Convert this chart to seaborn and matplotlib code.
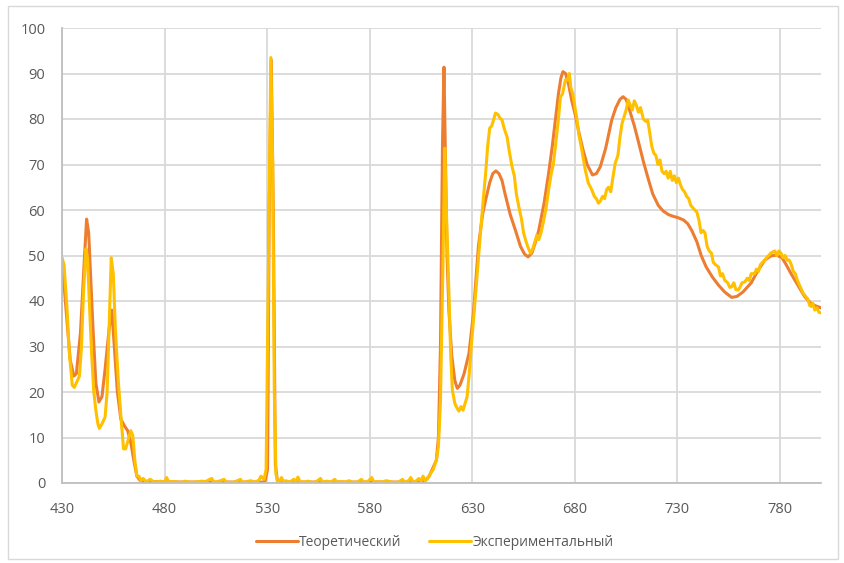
import numpy as np
import pandas as pd
import matplotlib
matplotlib.use("Agg")
import matplotlib.pyplot as plt
import seaborn as sns
from matplotlib.patches import Rectangle

# wavelength / intensity
theory_x = [430, 432, 434, 435.8, 437, 439, 441, 442, 443, 445, 446.5, 448, 449.5, 451, 453,
            454.3, 455.5, 457, 458.7, 460.5, 462, 463.5, 465, 466.5, 468, 470, 490, 510, 528,
            529, 530.2, 531, 532, 533, 534, 535, 536.5, 560, 585, 605,
            607, 609, 611, 612.5, 613.5, 614.5, 615.5, 616.2, 617, 617.7, 618.6, 620, 621.5,
            622.7, 624, 626, 628.4, 630.5, 633, 635, 636.5, 638.5, 640, 641.5, 643, 644.5,
            646, 648.5, 651, 653.5, 655.5, 657.2, 659, 660.5, 662.4, 665, 667.2, 669, 670.5,
            672, 673.2, 674.2, 675.5, 677, 678.5, 680, 682, 684, 686, 688.6, 690.5, 692.4,
            695, 698, 700, 702, 703.5, 705, 707, 709, 711, 713.5, 716, 718, 720.7, 723,
            725.6, 728, 730.4, 733, 735, 737, 739.5, 741.6, 744, 747, 750, 753, 756.4, 759,
            762, 766, 769, 772.6, 775.5, 778.3, 781, 783, 785.4, 788, 790, 792, 795, 797, 800]
theory_y = [49, 38, 27, 23.5, 24, 33, 50, 58, 55, 35, 22, 17.8, 19, 25, 34,
            38, 30, 20, 14, 12.5, 11.5, 9, 5, 1.5, 0.6, 0.3, 0.2, 0.2, 0.2,
            0.5, 3, 60, 93, 60, 4, 0.5, 0.2, 0.2, 0.2, 0.2,
            0.5, 1.5, 3.5, 5, 10, 30, 75, 91.4, 70, 50, 38, 28, 22.5,
            20.8, 21.5, 24, 28.5, 37, 52, 59, 62.2, 66, 68, 68.6, 68, 66.5,
            63.5, 59, 55.6, 52, 50.3, 49.7, 50.5, 52.5, 55.5, 61.5, 68, 74, 79.8,
            85.5, 89, 90.4, 90, 87.5, 84, 81.3, 77, 73.2, 70, 67.7, 68, 69.5,
            73.5, 79.8, 82.5, 84.3, 84.9, 84.3, 81.5, 78.5, 75, 70.5, 66.5, 63.5, 61, 59.8,
            59, 58.6, 58.3, 57.8, 57, 55.5, 53, 50, 47.5, 45.3, 43.5, 42, 40.8, 41,
            42, 44, 46.5, 49, 49.9, 50.1, 49.5, 48, 46, 44, 42.5, 41, 39.5, 39, 38.5]

exp_x = [430, 431, 432.5, 433.5, 435, 436, 437, 438.5, 439.5, 440.5, 441.7, 442.5, 443.5,
         444.5, 445.5, 446.5, 447.5, 448.2, 449.5, 451, 452, 453, 454, 455, 456, 457.5,
         459, 460, 461, 462, 463.5, 464.5, 465.5, 466.5, 467.5, 468.5, 469.5, 471,
         473, 475, 478, 480, 481, 482, 485, 488, 490, 492, 495, 498, 500, 502, 503, 504,
         506, 509, 510, 513, 515, 517, 518, 520, 522, 524, 526, 527, 528.5, 529.5, 530.7,
         531.8, 532.7, 533.5, 534.3, 535, 536, 537, 538, 539, 541, 543, 544, 545,
         546, 548, 550, 552, 554, 556, 557, 559, 561, 563, 564, 566, 568, 570, 572, 574,
         576, 577, 579, 581, 582, 584, 586, 588, 590, 592, 594, 596, 597, 599, 600, 601,
         602, 604, 605, 606, 607, 608, 609.5, 611, 612.5, 613.5, 614.5, 615.7, 616.6,
         617.5, 618.6, 619.5, 620.3, 621.5, 622.5, 623.5, 624.5, 625.5, 626.5, 627.5,
         628.5, 629.5, 631, 632.4, 634, 635.5, 636.5, 637.5, 638.5, 639.5, 640.5, 641.3,
         642.5, 643.5, 644.5, 645.5, 647, 648, 649.4, 650.5, 651.5, 652.7, 654, 655, 656,
         657, 658.4, 659.5, 660.5, 661.5, 662.4, 663.5, 664.5, 666, 667.2, 668.5, 669.5,
         670.5, 672, 673, 674, 675.4, 676.5, 677.3, 678, 679, 680, 681, 682, 683.4, 685,
         686.5, 688.3, 689.5, 690.5, 691.5, 692.5, 693.5, 694.5, 695.5, 696.4, 697.5,
         698.5, 699.7, 701, 702, 703, 704, 705, 706, 707, 708, 709, 710, 711, 712, 713.4,
         714.5, 715.5, 716.5, 717.5, 718.5, 719.5, 720.5, 721.5, 722.5, 723.5, 724.5,
         725.5, 726.5, 727.5, 728.5, 729.5, 730.5, 731.5, 732.5, 733.5, 734.5, 735.5,
         736.5, 737.5, 738.5, 739.5, 740.5, 741.5, 742.5, 743.4, 744.5, 745.5, 746.6,
         747.5, 748.5, 750, 751, 752, 753, 754.5, 755.5, 756.4, 757.5, 758.5, 759.6,
         760.5, 761.5, 762.9, 764, 765, 766, 767.7, 768.5, 769.5, 770.5, 771.5, 772.6,
         773.5, 774.5, 775.5, 776.6, 777.5, 778.5, 779.5, 780.5, 781.5, 782.5, 783.5,
         784.5, 785.5, 786.5, 787.5, 788.5, 789.5, 790.5, 791.3, 792.5, 793.5, 794.5,
         795.2, 796, 797, 798, 799, 800]
exp_y = [49.5, 48, 38, 29, 21.5, 21, 22, 23.5, 30, 42, 51.5, 49, 38,
         28, 20, 16, 13, 12, 13, 14.5, 20, 35, 49.5, 46, 34, 22,
         13, 7.5, 7.5, 9, 11.5, 10.5, 5, 1.5, 1.5, 0.5, 1, 0.3,
         0.8, 0.2, 0.4, 0.1, 1.2, 0.2, 0.3, 0.1, 0.4, 0.2, 0.2, 0.4, 0.3, 0.8, 1.0, 0.2,
         0.3, 0.8, 0.2, 0.1, 0.4, 0.8, 0.1, 0.3, 0.5, 0.2, 0.6, 1.5, 0.8, 3, 50,
         93.5, 70, 20, 2, 0.5, 0.3, 1.2, 0.3, 0.5, 0.2, 0.8, 0.3, 1.3,
         0.3, 0.2, 0.4, 0.1, 0.3, 1.0, 0.2, 0.4, 0.2, 0.8, 0.2, 0.3, 0.2, 0.5, 0.1, 0.2,
         0.8, 0.2, 0.3, 1.2, 0.2, 0.3, 0.2, 0.5, 0.3, 0.1, 0.2, 0.8, 0.2, 0.5, 1.2, 0.3,
         0.2, 1.0, 0.3, 1.5, 0.5, 0.8, 2, 3, 5, 8, 18, 48, 73.6,
         58, 42, 28, 20.4, 17.5, 16.5, 15.8, 16.8, 16, 17.5, 19,
         24, 30, 38, 46, 55, 63, 68, 74, 78, 78.5, 80, 81.3,
         81, 80.2, 79.8, 78, 76, 73, 69.5, 67.5, 63.5, 60.7, 58, 55, 53.4,
         52, 50.5, 51.5, 53, 54.5, 53.5, 55, 57, 60.5, 64.4, 68, 70,
         73.9, 80, 84.9, 85.5, 88.6, 88.5, 90, 87, 85.5, 82.7, 80, 76.5, 73.2, 69,
         66, 64.4, 63, 62.5, 61.5, 62, 63, 62.5, 64.5, 65, 64,
         67, 70.3, 72, 76, 79, 80.5, 82, 84.2, 83, 82, 84, 83, 81.5, 82.5, 80,
         79.5, 79.8, 77, 74, 72.5, 72, 70, 71, 68.5, 68, 68.5,
         67, 68.5, 66.5, 67.5, 66, 67, 65.5, 64.5, 64, 63, 62.5,
         61, 60.5, 60, 59.5, 57.8, 55, 55.5, 55, 52, 51, 50.5,
         48.5, 48, 47.5, 45.5, 46, 44.6, 44, 43, 43.1, 44, 42.5, 42.4,
         43, 44, 44.2, 45, 44.5, 46, 46, 47, 46.5, 48, 48.5, 49,
         49.5, 50, 50.5, 50.8, 51, 50, 51, 50.5, 49.5, 50, 49,
         49, 48, 46.5, 46, 44.5, 43.5, 42.5, 41.7, 41, 40.5, 39,
         38.8, 39.5, 38, 38.5, 37.5, 37.4]

labels = ["Теоретический", "Экспериментальный"]
colors = ["#ED7D31", "#FFC000"]
x_ticks = [430, 480, 530, 580, 630, 680, 730, 780]
y_ticks = list(range(0, 101, 10))

sns.set_style("white")
plt.rcParams["font.family"] = ["Open Sans", "DejaVu Sans"]

fig = plt.figure(figsize=(8.44, 5.63), dpi=100)
ax = fig.add_axes([62 / 844, 1 - 483 / 563, (821 - 62) / 844, (483 - 28) / 563])

# outer chart frame
fig.patches.append(Rectangle((8 / 844, 4 / 563), 830 / 844, 553 / 563, transform=fig.transFigure,
                             fill=False, edgecolor="#D9D9D9", linewidth=1.0))

sns.lineplot(x=theory_x, y=theory_y, ax=ax, color=colors[0], linewidth=2.2,
             label=labels[0], sort=False, estimator=None)
sns.lineplot(x=exp_x, y=exp_y, ax=ax, color=colors[1], linewidth=2.2,
             label=labels[1], sort=False, estimator=None)

ax.set_xlim(430, 800)
ax.set_ylim(0, 100)
ax.set_xticks(x_ticks)
ax.set_yticks(y_ticks)
ax.grid(True, color="#D9D9D9", linewidth=1.3)
ax.set_axisbelow(True)
for s in ["top", "right"]:
    ax.spines[s].set_visible(False)
for s in ["left", "bottom"]:
    ax.spines[s].set_color("#BFBFBF")
    ax.spines[s].set_linewidth(1.3)
ax.tick_params(axis="both", length=0, labelsize=10.5, labelcolor="#595959")
ax.tick_params(axis="x", pad=14)
ax.tick_params(axis="y", pad=12)
ax.set_xlabel("")
ax.set_ylabel("")

ax.get_legend().remove()
handles, lbls = ax.get_legend_handles_labels()
leg = fig.legend(handles, lbls, loc="center", bbox_to_anchor=(0.515, 1 - 542 / 563), ncol=2,
                 frameon=False, fontsize=10, handlelength=3.0, handletextpad=0.1,
                 columnspacing=2.0)
for t in leg.get_texts():
    t.set_color("#595959")

fig.savefig("out.png", dpi=100)
